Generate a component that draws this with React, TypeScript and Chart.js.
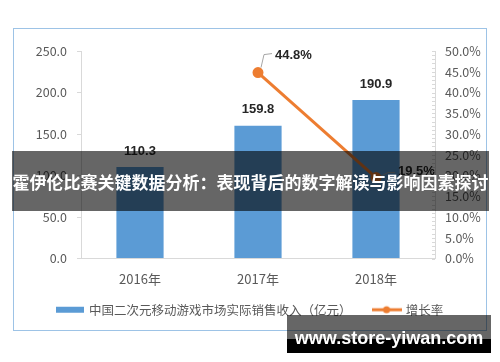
import React, { useEffect, useRef } from "react";
import { Chart, registerables } from "chart.js";

Chart.register(...registerables);

const categories = ["2016年", "2017年", "2018年"];
const revenue = [110.3, 159.8, 190.9];
const growth: (number | null)[] = [null, 44.8, 19.5];
const revenueLabel = "中国二次元移动游戏市场实际销售收入（亿元）";
const growthLabel = "增长率";
const bannerTitle = "霍伊伦比赛关键数据分析：表现背后的数字解读与影响因素探讨";
const watermark = "www.store-yiwan.com";

const BLUE = "#5B9BD5";
const ORANGE = "#ED7D31";
const AXIS = "#D9D9D9";
const TEXT = "#595959";
const CJK = "'Noto Sans CJK SC', 'Noto Sans', sans-serif";

function barIcon(): HTMLCanvasElement {
  const c = document.createElement("canvas");
  c.width = 28;
  c.height = 8;
  const ctx = c.getContext("2d")!;
  ctx.fillStyle = BLUE;
  ctx.fillRect(0, 1, 28, 6);
  return c;
}

function lineIcon(): HTMLCanvasElement {
  const c = document.createElement("canvas");
  c.width = 30;
  c.height = 10;
  const ctx = c.getContext("2d")!;
  ctx.strokeStyle = ORANGE;
  ctx.lineWidth = 3;
  ctx.beginPath();
  ctx.moveTo(0, 5);
  ctx.lineTo(30, 5);
  ctx.stroke();
  ctx.fillStyle = ORANGE;
  ctx.beginPath();
  ctx.arc(15, 5, 3.5, 0, Math.PI * 2);
  ctx.fill();
  return c;
}

const labelPlugin = {
  id: "valueLabels",
  afterDatasetsDraw(chart: any) {
    const ctx = chart.ctx;
    ctx.save();
    const barMeta = chart.getDatasetMeta(0);
    ctx.font = "bold 13px 'Liberation Sans', Arial, sans-serif";
    ctx.fillStyle = "#262626";
    ctx.textAlign = "center";
    ctx.textBaseline = "middle";
    barMeta.data.forEach((el: any, i: number) => {
      ctx.fillText(revenue[i].toFixed(1), el.x, el.y - 16);
    });
    const lineMeta = chart.getDatasetMeta(1);
    const maxVal = Math.max(...(growth.filter((v) => v !== null) as number[]));
    lineMeta.data.forEach((el: any, i: number) => {
      const v = growth[i];
      if (v === null || v === undefined) return;
      const px = el.x;
      const py = el.y;
      ctx.strokeStyle = "#A6A6A6";
      ctx.lineWidth = 1;
      ctx.beginPath();
      let tx: number, ty: number;
      if (v === maxVal) {
        ctx.moveTo(px + 3, py - 5);
        ctx.lineTo(px + 6, py - 18);
        ctx.lineTo(px + 14, py - 19);
        tx = px + 17;
        ty = py - 17;
      } else {
        ctx.moveTo(px + 4, py - 1);
        ctx.lineTo(px + 12, py - 5);
        ctx.lineTo(px + 19, py - 5);
        tx = px + 22;
        ty = py - 6;
      }
      ctx.stroke();
      ctx.fillStyle = "#262626";
      ctx.textAlign = "left";
      ctx.textBaseline = "middle";
      ctx.fillText(v.toFixed(1) + "%", tx, ty);
    });
    ctx.restore();
  },
};

const minorTickPlugin = {
  id: "minorTicks",
  afterDraw(chart: any) {
    const s = chart.scales.y1;
    const ctx = chart.ctx;
    ctx.save();
    ctx.strokeStyle = AXIS;
    ctx.lineWidth = 1;
    for (let v = 0; v <= 50; v += 1) {
      const y = Math.round(s.getPixelForValue(v)) + 0.5;
      ctx.beginPath();
      ctx.moveTo(s.left - 3, y);
      ctx.lineTo(s.left, y);
      ctx.stroke();
    }
    ctx.restore();
  },
};

const legendShiftPlugin = {
  id: "legendShift",
  afterLayout(chart: any) {
    const lg = chart.legend;
    if (!lg) return;
    lg.top -= 10;
    lg.bottom -= 10;
  },
};

export default function App() {
  const ref = useRef<HTMLCanvasElement | null>(null);

  useEffect(() => {
    if (!ref.current) return;
    const bIcon = barIcon();
    const lIcon = lineIcon();
    const chart = new Chart(ref.current, {
      type: "bar",
      data: {
        labels: categories,
        datasets: [
          {
            type: "bar",
            label: revenueLabel,
            data: revenue,
            backgroundColor: BLUE,
            barPercentage: 0.4,
            categoryPercentage: 1,
            yAxisID: "y",
            order: 2,
          },
          {
            type: "line",
            label: growthLabel,
            data: growth,
            borderColor: ORANGE,
            backgroundColor: ORANGE,
            borderWidth: 3,
            pointRadius: 4,
            pointBackgroundColor: ORANGE,
            pointBorderColor: ORANGE,
            yAxisID: "y1",
            order: 1,
          } as any,
        ],
      },
      options: {
        animation: false,
        responsive: false,
        maintainAspectRatio: false,
        layout: { padding: { top: 51, left: 0, right: 0, bottom: 26 } },
        plugins: {
          tooltip: { enabled: false },
          legend: {
            position: "bottom",
            labels: {
              usePointStyle: true,
              pointStyleWidth: 26,
              boxHeight: 10,
              padding: 22,
              color: TEXT,
              font: { size: 12.5, family: CJK },
              generateLabels: () => [
                {
                  text: revenueLabel,
                  pointStyle: bIcon as any,
                  fillStyle: BLUE,
                  strokeStyle: BLUE,
                  lineWidth: 0,
                  hidden: false,
                  datasetIndex: 0,
                  fontColor: TEXT,
                },
                {
                  text: growthLabel,
                  pointStyle: lIcon as any,
                  fillStyle: ORANGE,
                  strokeStyle: ORANGE,
                  lineWidth: 0,
                  hidden: false,
                  datasetIndex: 1,
                  fontColor: TEXT,
                },
              ],
            },
          },
        },
        scales: {
          x: {
            grid: { display: false, drawTicks: false },
            border: { color: AXIS },
            ticks: { color: TEXT, font: { size: 13, family: CJK }, padding: 13 },
            afterFit(s: any) {
              s.height = 33;
            },
          },
          y: {
            position: "left",
            min: 0,
            max: 250,
            grid: { drawOnChartArea: false, drawTicks: true, tickLength: 4, color: AXIS },
            border: { color: AXIS },
            ticks: {
              stepSize: 50,
              color: TEXT,
              font: { size: 12.5, family: CJK },
              padding: 10,
              callback: (v: any) => Number(v).toFixed(1),
            },
            afterFit(s: any) {
              s.width = 81;
            },
          },
          y1: {
            position: "right",
            min: 0,
            max: 50,
            grid: { drawOnChartArea: false, drawTicks: false },
            border: { color: AXIS },
            ticks: {
              stepSize: 5,
              color: TEXT,
              font: { size: 12.5, family: CJK },
              padding: 10,
              callback: (v: any) => Number(v).toFixed(1) + "%",
            },
            afterFit(s: any) {
              s.width = 65;
            },
          },
        },
      } as any,
      plugins: [labelPlugin, minorTickPlugin, legendShiftPlugin],
    });
    return () => chart.destroy();
  }, []);

  return (
    <div
      style={{
        position: "fixed",
        left: 0,
        top: 0,
        width: 500,
        height: 362,
        background: "#fff",
        overflow: "hidden",
      }}
    >
      <canvas ref={ref} width={500} height={362} style={{ display: "block", width: 500, height: 362 }} />
      <div
        style={{
          position: "absolute",
          left: 13,
          top: 28,
          width: 474,
          height: 303,
          boxSizing: "border-box",
          border: "1.5px solid #9DC3E6",
          pointerEvents: "none",
        }}
      />
      <div
        style={{
          position: "absolute",
          left: 12,
          top: 151,
          width: 477,
          height: 60,
          background: "rgba(0,0,0,0.6)",
          color: "#fff",
          fontFamily: CJK,
          fontWeight: 700,
          fontSize: 17,
          display: "flex",
          alignItems: "center",
          justifyContent: "center",
          whiteSpace: "nowrap",
        }}
      >
        {bannerTitle}
      </div>
      <div
        style={{
          position: "absolute",
          left: 287,
          top: 315,
          width: 204,
          height: 24,
          background: "rgba(0,0,0,0.6)",
        }}
      />
      <div
        style={{
          position: "absolute",
          left: 287,
          top: 339,
          width: 204,
          height: 14,
          background: "#000",
        }}
      />
      <div
        style={{
          position: "absolute",
          left: 287,
          top: 324,
          width: 204,
          height: 28,
          color: "#fff",
          fontFamily: "'Liberation Sans', Arial, sans-serif",
          fontWeight: 700,
          fontSize: 18,
          display: "flex",
          alignItems: "center",
          justifyContent: "center",
          whiteSpace: "nowrap",
        }}
      >
        {watermark}
      </div>
    </div>
  );
}
